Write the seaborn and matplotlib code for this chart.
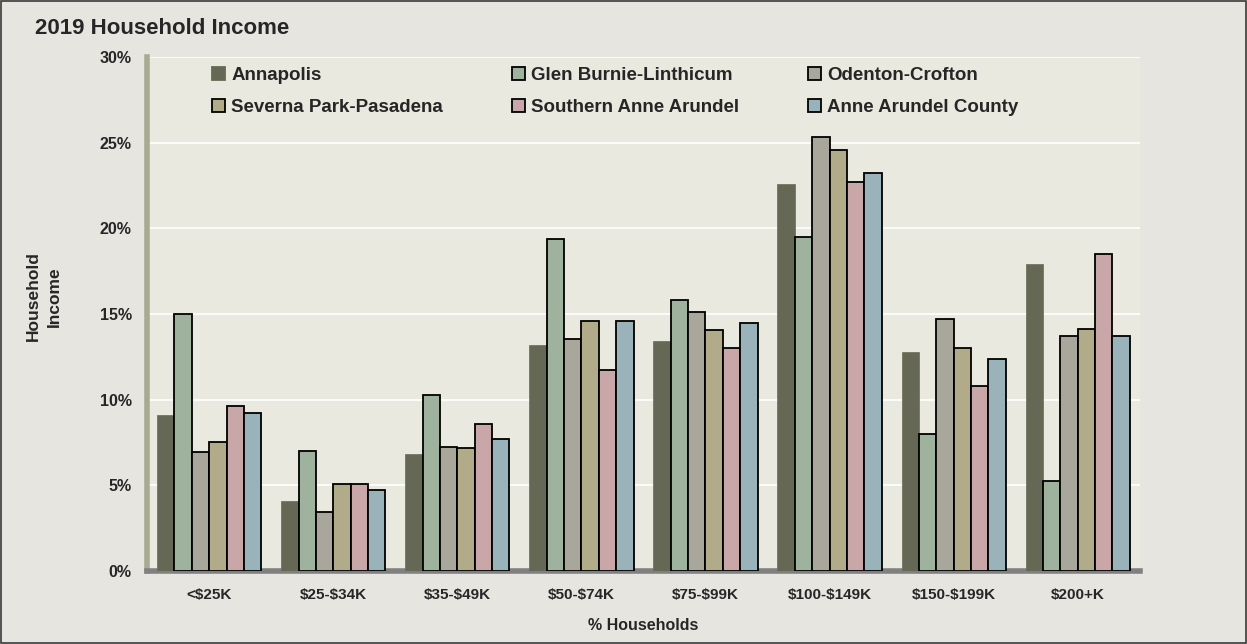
import matplotlib
matplotlib.use("Agg")
import matplotlib.pyplot as plt
import seaborn as sns
import pandas as pd
import numpy as np
from matplotlib.patches import Rectangle
from matplotlib.ticker import PercentFormatter, FixedLocator

categories = ["<$25K", "$25-$34K", "$35-$49K", "$50-$74K", "$75-$99K",
              "$100-$149K", "$150-$199K", "$200+K"]
series_names = ["Annapolis", "Glen Burnie-Linthicum", "Odenton-Crofton",
                "Severna Park-Pasadena", "Southern Anne Arundel", "Anne Arundel County"]
annapolis = [9.1, 4.1, 6.8, 13.2, 13.4, 22.6, 12.8, 17.9]
glen_burnie = [15.0, 7.0, 10.3, 19.4, 15.8, 19.5, 8.0, 5.25]
odenton = [6.95, 3.45, 7.25, 13.55, 15.1, 25.35, 14.7, 13.7]
severna = [7.55, 5.05, 7.15, 14.6, 14.05, 24.6, 13.0, 14.1]
southern = [9.6, 5.1, 8.6, 11.75, 13.0, 22.7, 10.8, 18.5]
county = [9.2, 4.7, 7.7, 14.6, 14.5, 23.25, 12.4, 13.7]
colors = ["#686B53", "#9CB59A", "#ABA99A", "#B7AF84", "#CFA1A3", "#95B4BF"]

values = [annapolis, glen_burnie, odenton, severna, southern, county]
rows = []
for name, vals in zip(series_names, values):
    for cat, v in zip(categories, vals):
        rows.append({"Income": cat, "Area": name, "Pct": v})
df = pd.DataFrame(rows)

sns.set_theme(style="white")
plt.rcParams['font.family'] = ['Liberation Sans', 'DejaVu Sans']
plt.rcParams['font.weight'] = 'bold'
plt.rcParams['text.parse_math'] = False

fig = plt.figure(figsize=(12.47, 6.44), dpi=100)
fig.patch.set_facecolor("#E6E5E0")
ax = fig.add_axes([0.118, 0.1134, 0.796, 0.7981])
ax.set_facecolor("#EAE9DF")

sns.barplot(data=df, x="Income", y="Pct", hue="Area", order=categories,
            hue_order=series_names, palette=colors, width=0.84, gap=0,
            edgecolor="black", linewidth=1.3, ax=ax, zorder=3, errorbar=None)

for i, cont in enumerate(ax.containers):
    for p in cont.patches:
        if i == 0:
            p.set_edgecolor("#686B53")
            p.set_linewidth(0.5)

ax.set_ylim(0, 30)
ax.set_xlim(-0.5, len(categories) - 0.5)
ax.set_yticks([0, 5, 10, 15, 20, 25, 30])
ax.yaxis.set_major_formatter(PercentFormatter(decimals=0))
ax.grid(axis="y", color="white", linewidth=1.2, zorder=0)
ax.set_axisbelow(True)

for s in ["top", "right"]:
    ax.spines[s].set_visible(False)
ax.spines["left"].set_color("#A9AA92")
ax.spines["left"].set_linewidth(4)
ax.spines["bottom"].set_color("#808080")
ax.spines["bottom"].set_linewidth(4)

ax.tick_params(axis="y", which="major", length=5, width=3, color="#A9AA92",
               labelsize=11.5, pad=6, direction="out")
ax.tick_params(axis="x", which="major", length=0, labelsize=11, pad=12)
ax.xaxis.set_minor_locator(FixedLocator(np.arange(-0.5, len(categories), 1.0)))
ax.tick_params(axis="x", which="minor", length=5, width=3, color="#808080", direction="out")
for lab in ax.get_xticklabels() + ax.get_yticklabels():
    lab.set_fontweight("bold")

ax.set_xlabel("% Households", fontsize=11.5, fontweight="bold", labelpad=12)
ax.set_ylabel("")
fig.text(0.035, 0.54, "Household\nIncome", rotation=90, ha="center", va="center",
         fontsize=12.5, fontweight="bold", multialignment="center", linespacing=1.5)

fig.text(0.028, 0.955, "2019 Household Income", fontsize=16, fontweight="bold",
         ha="left", va="center")

handles, labels = ax.get_legend_handles_labels()
order = [0, 3, 1, 4, 2, 5]
leg = ax.legend([handles[i] for i in order], [labels[i] for i in order], ncol=3,
          loc="upper left", bbox_to_anchor=(0.048, 1.014), frameon=False,
          prop={"weight": "bold", "size": 13.5},
          handlelength=0.7, handleheight=0.7, handletextpad=0.35,
          columnspacing=3.65, labelspacing=0.83)
leg.legend_handles[0].set_edgecolor(colors[0])

fig.add_artist(Rectangle((0.0008, 0.0015), 0.9984, 0.997, transform=fig.transFigure,
                         fill=False, edgecolor="#3a3a3a", linewidth=1.2))

fig.savefig("out.png", dpi=100, facecolor=fig.get_facecolor())
